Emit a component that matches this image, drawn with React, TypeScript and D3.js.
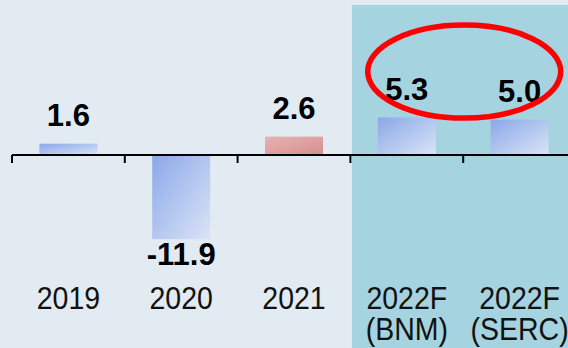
import React from "react";
import * as d3 from "d3";

// GDP growth, % — actuals and 2022 forecasts
const categories = ["2019", "2020", "2021", "2022F (BNM)", "2022F (SERC)"];
const categoryLines = [["2019"], ["2020"], ["2021"], ["2022F", "(BNM)"], ["2022F", "(SERC)"]];
const growth = [1.6, -11.9, 2.6, 5.3, 5.0];
const barTone = ["blue", "blue", "red", "blue", "blue"];
const forecastCategories = ["2022F (BNM)", "2022F (SERC)"];

const W = 568;
const H = 348;
const FONT = "'Liberation Sans', Arial, Helvetica, sans-serif";

export default function App() {
  const x = d3
    .scaleBand<string>()
    .domain(categories)
    .range([12, 576])
    .paddingInner(0.486)
    .paddingOuter(0.243);

  const step = x.step();
  const y = d3.scaleLinear().domain([-14, 8]).range([155 + 14 * 7.07, 155 - 8 * 7.07]);
  const y0 = y(0);

  const fcStart = (x(forecastCategories[0]) as number) - step * 0.243 + 1.5;
  const tickXs = d3.range(categories.length + 1).map((i) => 12 + i * step);

  // ring around the two forecast values
  const fcA = (x(forecastCategories[0]) as number) + x.bandwidth() / 2;
  const fcB = (x(forecastCategories[1]) as number) + x.bandwidth() / 2;
  const ringCx = (fcA + fcB) / 2 + 1;
  const ringCy = y(Math.max(...growth)) - 46;

  return (
    <svg
      width={W}
      height={H}
      style={{ position: "absolute", left: 0, top: 0, display: "block" }}
      fontFamily={FONT}
    >
      <defs>
        <linearGradient id="gBlue" x1="0" y1="0" x2="1" y2="1">
          <stop offset="0%" stopColor="#8aa8e8" />
          <stop offset="100%" stopColor="#dbe4f7" />
        </linearGradient>
        <linearGradient id="gRed" x1="0" y1="0" x2="1" y2="1">
          <stop offset="0%" stopColor="#e6b3b3" />
          <stop offset="100%" stopColor="#d68e8e" />
        </linearGradient>
      </defs>

      <rect x={0} y={0} width={W} height={H} fill="#e2eaf2" />
      <rect x={fcStart} y={5} width={W - fcStart} height={H - 5} fill="#a5d3e0" />

      {categories.map((c, i) => {
        const v = growth[i];
        const bx = x(c) as number;
        const top = Math.min(y(v), y0);
        const h = Math.abs(y(v) - y0);
        const cx = bx + x.bandwidth() / 2;
        const labelY = v >= 0 ? y(v) - 17.5 : y(v) + 25.5;
        return (
          <g key={c}>
            <rect
              x={bx}
              y={top}
              width={x.bandwidth()}
              height={h}
              fill={barTone[i] === "red" ? "url(#gRed)" : "url(#gBlue)"}
            />
            <text
              x={cx}
              y={labelY}
              textAnchor="middle"
              fontSize={31}
              fontWeight="bold"
              fill="#000"
            >
              {v.toFixed(1)}
            </text>
            {/* category name, one or two lines */}
            <text
              transform={`translate(${cx},309) scale(1,1.1)`}
              textAnchor="middle"
              fontSize={28.5}
              fill="#111"
            >
              {categoryLines[i].map((line, j) => (
                <tspan key={j} x={0} y={(j * 31) / 1.1}>
                  {line}
                </tspan>
              ))}
            </text>
          </g>
        );
      })}

      <line x1={12} x2={W} y1={y0} y2={y0} stroke="#000" strokeWidth={2} />
      {tickXs.map((tx, i) => (
        <line key={i} x1={tx} x2={tx} y1={y0} y2={y0 + 8} stroke="#000" strokeWidth={2} />
      ))}

      <ellipse
        cx={ringCx}
        cy={ringCy}
        rx={96.5}
        ry={46.5}
        fill="none"
        stroke="#ff0000"
        strokeWidth={5.5}
      />
    </svg>
  );
}
